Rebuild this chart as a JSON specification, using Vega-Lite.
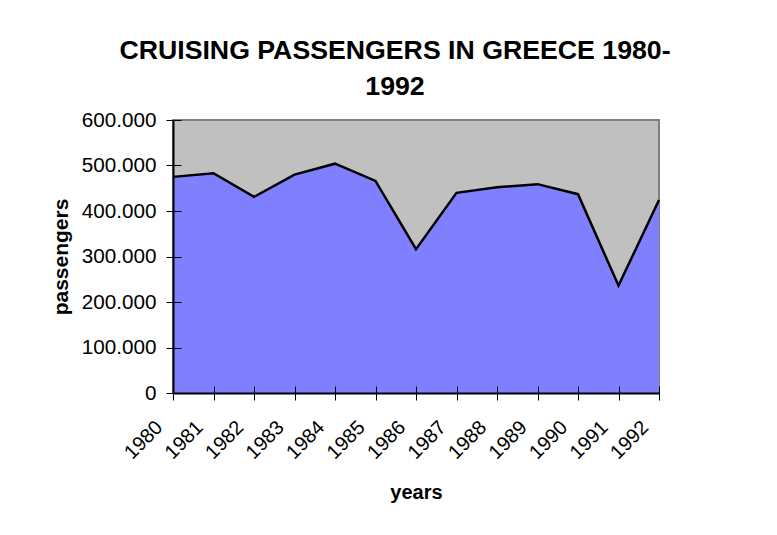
{
  "$schema": "https://vega.github.io/schema/vega-lite/v6.json",
  "width": 486,
  "height": 273,
  "autosize": {"type": "none"},
  "padding": {"left": 173, "top": 120, "right": 118, "bottom": 142},
  "background": "white",
  "title": {
    "text": ["CRUISING PASSENGERS IN GREECE 1980-", "1992"],
    "font": "Liberation Sans",
    "fontSize": 26.7,
    "fontWeight": "bold",
    "color": "black",
    "lineHeight": 36,
    "anchor": "middle",
    "frame": "group",
    "dx": -21,
    "offset": 8
  },
  "config": {
    "view": {"fill": "#c0c0c0", "stroke": "#808080", "strokeWidth": 2},
    "axis": {
      "labelFont": "Liberation Sans",
      "labelFontSize": 20.7,
      "labelColor": "black",
      "titleFont": "Liberation Sans",
      "titleFontSize": 20,
      "titleFontWeight": "bold",
      "titleColor": "black",
      "domainColor": "black",
      "domainWidth": 2,
      "tickColor": "black",
      "tickWidth": 1,
      "tickSize": 7,
      "grid": false
    }
  },
  "data": {
    "values": [
      {"year": "1980", "passengers": 475000},
      {"year": "1981", "passengers": 483000},
      {"year": "1982", "passengers": 431000},
      {"year": "1983", "passengers": 480000},
      {"year": "1984", "passengers": 504000},
      {"year": "1985", "passengers": 466000},
      {"year": "1986", "passengers": 316000},
      {"year": "1987", "passengers": 440000},
      {"year": "1988", "passengers": 452000},
      {"year": "1989", "passengers": 459000},
      {"year": "1990", "passengers": 437000},
      {"year": "1991", "passengers": 236000},
      {"year": "1992", "passengers": 424000}
    ]
  },
  "resolve": {"axis": {"x": "independent", "y": "independent"}},
  "layer": [
    {
      "mark": {"type": "area", "color": "#8080ff", "opacity": 1},
      "encoding": {
        "x": {
          "field": "year",
          "type": "ordinal",
          "scale": {"type": "point", "padding": 0},
          "axis": {
            "title": "years",
            "zindex": 1,
            "labelAngle": -45,
            "labelAlign": "right",
            "labelBaseline": "middle",
            "labelFontSize": 20,
            "labelOffset": -14,
            "labelPadding": 24,
            "titlePadding": 20
          }
        },
        "y": {
          "field": "passengers",
          "type": "quantitative",
          "scale": {"domain": [0, 600000], "nice": false},
          "axis": {
            "title": "passengers",
            "zindex": 1,
            "values": [0, 100000, 200000, 300000, 400000, 500000, 600000],
            "labelExpr": "replace(format(datum.value, ','), ',', '.')",
            "labelPadding": 10,
            "titlePadding": 10,
            "titleFontSize": 21
          }
        }
      }
    },
    {
      "mark": {"type": "line", "color": "black", "strokeWidth": 2.5},
      "encoding": {
        "x": {
          "field": "year",
          "type": "ordinal",
          "axis": {
            "orient": "bottom",
            "zindex": 1,
            "tickSize": -7,
            "labels": false,
            "domain": false,
            "title": null
          }
        },
        "y": {
          "field": "passengers",
          "type": "quantitative",
          "axis": {
            "orient": "left",
            "zindex": 1,
            "values": [0, 100000, 200000, 300000, 400000, 500000, 600000],
            "tickSize": -8,
            "labels": false,
            "domain": false,
            "title": null
          }
        }
      }
    }
  ]
}
